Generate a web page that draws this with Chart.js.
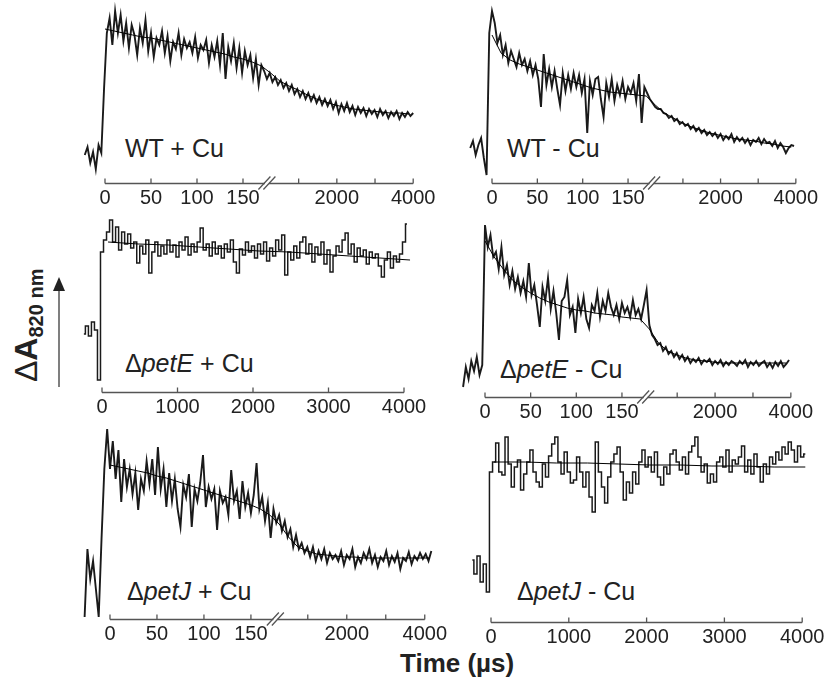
<!DOCTYPE html>
<html>
<head>
<meta charset="utf-8">
<script src="https://cdn.jsdelivr.net/npm/chart.js@4.4.1/dist/chart.umd.min.js"></script>
<style>
body{margin:0;background:#fff;width:828px;height:684px;position:relative;overflow:hidden;font-family:'Liberation Sans',Arial,sans-serif;color:#222}
canvas{position:absolute}
.lbl{position:absolute;font-size:25px;line-height:25px;white-space:nowrap}
#ylab{position:absolute;left:10px;top:382px;transform-origin:0 0;transform:rotate(-90deg);font-size:32px;line-height:32px;white-space:nowrap;font-weight:bold}
#ylab sub{font-size:20px;vertical-align:-6px;line-height:0}
#xlab{position:absolute;left:400px;top:650px;font-size:26px;line-height:26px;font-weight:bold;white-space:nowrap}
</style>
</head>
<body>
<div id="ylab"><span style="font-weight:normal">Δ</span>A<sub>820 nm</sub></div>
<svg style="position:absolute;left:50px;top:270px" width="20" height="125">
  <line x1="9" y1="18" x2="9" y2="117" stroke="#555" stroke-width="1.5"/>
  <polygon points="9,7 3,21 15,21" fill="#222"/>
</svg>
<div id="xlab">Time (µs)</div>
<div class="lbl" style="left:125px;top:136px">WT + Cu</div>
<div class="lbl" style="left:507px;top:136px">WT - Cu</div>
<div class="lbl" style="left:125px;top:351px">Δ<i>petE</i> + Cu</div>
<div class="lbl" style="left:500px;top:357px">Δ<i>petE</i> - Cu</div>
<div class="lbl" style="left:127px;top:579px">Δ<i>petJ</i> + Cu</div>
<div class="lbl" style="left:517px;top:579px">Δ<i>petJ</i> - Cu</div>
<script>
// tick labels of the two kinds of time axis (µs)
const brkTicks = [0, 50, 100, 150, 1000, 2000, 3000, 4000];
const brkLabels = ['0', '50', '100', '150', '', '2000', '', '4000'];
const linTicks = [0, 1000, 2000, 3000, 4000];
const linLabels = ['0', '1000', '2000', '3000', '4000'];

// traces (arbitrary ΔA units, 0 = time axis)
// broken-axis panels: sampled every 3 axis units, linear panels every 40 µs
const wtCuTrace = [
  28,36,20,31,14,38,30,95,150,165, 138,172,150,168,142,160,135,158,148,128,
  155,140,163,132,150,126,145,138,152,130, 147,122,141,134,150,128,144,135,141,130,
  146,125,138,133,143,120,138,126,142,118, 150,104,136,122,140,115,135,110,132,118,
  128,105,124,98,118,112,104,110,101,106, 98,103,95,100,92,98,89,94,86,92,
  84,90,82,88,80,86,78,84,77,83, 74,81,70,79,72,80,71,77,68,76,
  70,75,67,74,69,73,66,74,68,72, 65,71,67,72,64,70,66,71,67,70];
const wtCuFit = [154,152,150,148,146,145,143,141,139,137, 135,133,131,129,126,124,121,117,110,102,
  97,93,88,84,81,78,76,74,73,72, 71,70,70,69];

const wtNoCuTrace = [
  35,42,28,38,45,25,8,150,172,160, 140,148,128,138,120,132,124,116,130,118,
  124,112,122,108,118,104,76,129,98,114, 96,112,94,78,110,92,108,94,110,96,
  108,90,104,50,102,88,104,106,84,66, 100,86,104,82,98,88,102,84,96,90,
  100,82,109,60,96,90,84,80,76,74, 74,70,69,65,67,62,64,59,61,57,
  59,54,57,52,55,50,53,48,51,47, 50,45,49,43,47,44,49,41,46,42,
  45,40,44,38,43,41,45,39,44,40, 41,37,42,35,40,36,30,35,38,37];
const wtNoCuFit = [148,130,123,119,116,113,110,107,104,101, 98,95,93,91,90,89,88,87,78,70,
  65,60,56,53,50,48,46,44,43,42, 40,39,37,36];

const petECuTrace = [
  58,66,56,70,62,12,140,
  152,160,172,150,165,142,160,148,158,144, 150,129,146,138,152,119,140,150,136,146,
  138,152,140,147,135,150,142,155,137,148, 140,150,164,142,148,136,150,138,146,134,
  148,140,152,130,119,143,137,150,140,146, 134,148,138,150,131,144,136,152,142,157,
  117,140,132,146,134,150,155,138,148,130, 145,137,150,128,142,120,136,146,140,152,
  159,138,148,130,144,136,142,128,140,134, 138,126,115,132,140,124,136,130,138,150,
  168];
const petECuFit = [150,148,147,145,143,141,140,138,136,134,132];

const petENoCuTrace = [
  10,30,18,36,26,40,22,32,172,150, 162,140,145,128,150,122,132,112,126,108,
  120,104,116,100,134,102,112,92,70,110, 96,119,88,106,84,57,96,100,117,82,
  90,64,98,84,100,78,69,92,86,104, 80,96,86,104,90,82,92,78,94,84,
  90,80,97,82,88,78,92,107,72,62, 58,52,54,46,50,43,46,40,44,38,
  42,36,40,34,38,35,39,33,37,35, 38,32,36,33,37,31,35,32,36,34,
  31,36,33,37,30,35,32,36,31,34, 36,30,34,29,35,31,36,30,33,37];
const petENoCuFit = [156,140,128,117,110,104,99,95,92,89, 87,86,84,83,82,80,79,78,68,54,
  46,42,39,37,36,35,34,34,34,34, 34,34,34,34];

const petJCuTrace = [
  2,70,40,58,30,2,80,150,190,150, 178,140,169,117,160,132,150,125,146,109,
  140,128,158,135,160,124,172,130,150,112, 146,118,140,110,92,134,122,145,92,130,
  118,136,164,112,132,120,130,89,128,116, 122,104,149,118,128,100,138,112,126,106,
  124,156,110,122,98,116,81,110,96,104, 88,98,82,90,72,84,70,76,66,72,
  62,72,58,68,60,70,56,66,60,64, 58,68,54,64,60,70,52,62,56,66,
  60,70,56,64,52,62,58,68,54,63, 57,66,50,61,58,67,55,63,59,66,
  60,65,58,68];
const petJCuFit = [154,152,150,148,146,143,141,138,135,132, 129,126,123,120,117,114,110,104,95,82,
  72,68,65,64,63,62,62,61,61,61, 61,61,61,61,61];

const petJNoCuTrace = [
  62,48,66,40,58,30,150,
  160,179,150,147,185,158,135,155,162,132, 148,160,172,150,140,135,158,145,166,178,
  185,160,148,170,150,139,142,165,150,135, 150,125,110,180,150,135,119,145,160,168,
  175,150,122,140,129,150,138,160,172,155, 165,150,170,145,137,155,148,168,172,160,
  152,165,148,170,176,185,165,150,158,139, 148,140,160,165,155,172,150,162,158,165,
  176,150,162,148,168,155,140,158,148,165, 158,170,162,175,168,180,172,160,176,165,
  168];
const petJNoCuFit = [160,160,159,159,158,157,157,156,156,155,155];

// broken axis: 0-176 µs drawn as is, slow part squeezed (1000 µs = 41.5 units)
function brk(t) { return t <= 176 ? t : 252 + (t - 2000) * 0.0415; }
function lin(t) { return t; }

function pts(ys, x0, dx) {
  return ys.map((y, i) => ({ x: x0 + i * dx, y: y }));
}

Chart.defaults.font.family = "'Liberation Sans', Arial, sans-serif";
Chart.defaults.color = '#222';

const panels = [
  { left: 70, right: 450, top: 0, axis: 182.5, px0: 105, k: 0.92, map: brk, ticks: brkTicks, labels: brkLabels, brkAt: 176,
    trace: wtCuTrace, t0: -22, dt: 3, fit: wtCuFit, f0: 0, df: 10, step: false },
  { left: 455, right: 828, top: 0, axis: 182.7, px0: 492, k: 0.907, map: brk, ticks: brkTicks, labels: brkLabels, brkAt: 176,
    trace: wtNoCuTrace, t0: -24, dt: 3, fit: wtNoCuFit, f0: 0, df: 10, step: false },
  { left: 70, right: 450, top: 205, axis: 392, px0: 102, k: 0.0755, map: lin, ticks: linTicks, labels: linLabels, brkAt: null,
    trace: petECuTrace, t0: -240, dt: 40, fit: petECuFit, f0: 80, df: 400, step: 'middle' },
  { left: 455, right: 828, top: 205, axis: 397, px0: 485, k: 0.913, map: brk, ticks: brkTicks, labels: brkLabels, brkAt: 176,
    trace: petENoCuTrace, t0: -24, dt: 3, fit: petENoCuFit, f0: 0, df: 10, step: false },
  { left: 70, right: 450, top: 420, axis: 619, px0: 110, k: 0.94, map: brk, ticks: brkTicks, labels: brkLabels, brkAt: 176,
    trace: petJCuTrace, t0: -27, dt: 3, fit: petJCuFit, f0: 0, df: 10, step: false },
  { left: 455, right: 828, top: 420, axis: 622, px0: 491, k: 0.0778, map: lin, ticks: linTicks, labels: linLabels, brkAt: null,
    trace: petJNoCuTrace, t0: -240, dt: 40, fit: petJNoCuFit, f0: 40, df: 400, step: 'middle' }
];

// axis line with upward ticks and the // break mark
function axisPlugin(p) {
  return {
    id: 'timeAxis',
    beforeDatasetsDraw(chart) {
      const ctx = chart.ctx, sx = chart.scales.x;
      const y0 = Math.round(chart.chartArea.bottom) + 0.5;
      const xs = p.ticks.map(v => sx.getPixelForValue(p.map(v)));
      ctx.save();
      ctx.strokeStyle = '#555';
      ctx.lineWidth = 1.3;
      ctx.beginPath();
      ctx.moveTo(xs[0], y0);
      ctx.lineTo(xs[xs.length - 1], y0);
      xs.forEach(x => { ctx.moveTo(x, y0); ctx.lineTo(x, y0 - 5); });
      ctx.stroke();
      if (p.brkAt !== null) {
        const b = sx.getPixelForValue(p.brkAt);
        ctx.fillStyle = '#fff';
        ctx.fillRect(b - 2, y0 - 3, 4, 6);
        ctx.beginPath();
        [-2.5, 2.5].forEach(d => { ctx.moveTo(b + d - 6, y0 + 6); ctx.lineTo(b + d + 6, y0 - 7); });
        ctx.stroke();
      }
      ctx.restore();
    }
  };
}

panels.forEach(p => {
  const h = Math.round(p.axis - p.top);
  const cv = document.createElement('canvas');
  cv.width = p.right - p.left;
  cv.height = h + 30;
  cv.style.left = p.left + 'px';
  cv.style.top = p.top + 'px';
  document.body.appendChild(cv);

  new Chart(cv, {
    type: 'line',
    data: {
      datasets: [
        { data: pts(p.fit, p.f0, p.df), borderColor: '#000', borderWidth: 1, pointRadius: 0, order: 0 },
        { data: pts(p.trace, p.t0, p.dt), borderColor: '#1a1a1a', borderWidth: p.step ? 1.5 : 1.9,
          pointRadius: 0, stepped: p.step, order: 1 }
      ]
    },
    options: {
      responsive: false,
      animation: false,
      devicePixelRatio: 1,
      layout: { padding: 0 },
      plugins: { legend: { display: false }, tooltip: { enabled: false } },
      scales: {
        x: {
          type: 'linear',
          min: (p.left - p.px0) / p.k,
          max: (p.right - p.px0) / p.k,
          grid: { display: false, drawTicks: false },
          border: { display: false },
          afterBuildTicks: s => { s.ticks = p.ticks.map(v => ({ value: p.map(v) })); },
          afterFit: s => { s.height = 30; },
          ticks: { autoSkip: false, maxRotation: 0, minRotation: 0, padding: 3, color: '#222',
                   font: { size: 20 }, callback: (v, i) => p.labels[i] }
        },
        y: { display: false, min: 0, max: h }
      }
    },
    plugins: [axisPlugin(p)]
  });
});
</script>
</body>
</html>
